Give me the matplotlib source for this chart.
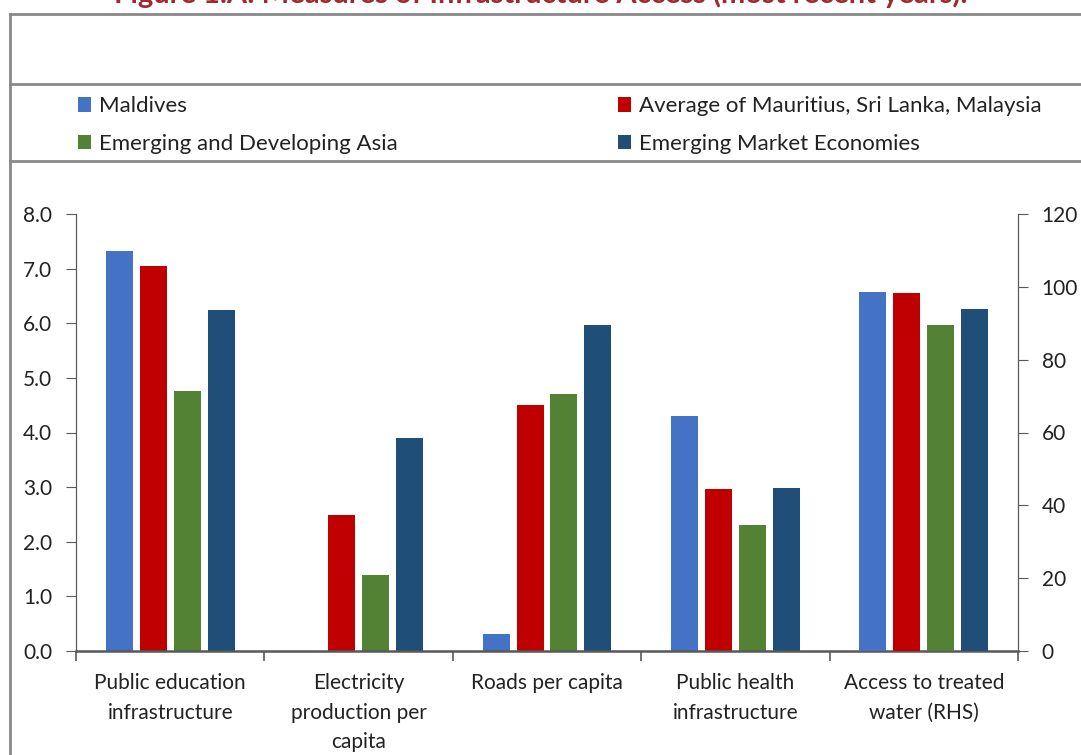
import matplotlib.pyplot as plt
import numpy as np
from matplotlib.lines import Line2D

plt.rcParams['font.family'] = ['Lato', 'DejaVu Sans']

# data
categories = ['Public education\ninfrastructure', 'Electricity\nproduction per\ncapita',
              'Roads per capita', 'Public health\ninfrastructure', 'Access to treated\nwater (RHS)']
series = ['Maldives', 'Average of Mauritius, Sri Lanka, Malaysia',
          'Emerging and Developing Asia', 'Emerging Market Economies']
colors = ['#4472C4', '#C00000', '#548235', '#1F4E79']

# left axis (first four categories)
maldives = [7.33, 0.0, 0.31, 4.30]
avg_msm = [7.05, 2.49, 4.51, 2.97]
eda = [4.76, 1.39, 4.71, 2.31]
eme = [6.25, 3.90, 5.97, 2.99]
# right axis (water access, %)
water = [98.6, 98.3, 89.5, 93.9]

left_vals = [maldives, avg_msm, eda, eme]

W, H = 1081, 755
fig = plt.figure(figsize=(W / 100, H / 100), dpi=100)
ax = fig.add_axes([76 / W, 1 - 651 / H, (1018 - 76) / W, (651 - 214) / H])
ax2 = ax.twinx()

offsets = [-0.27, -0.09, 0.09, 0.27]
bw = 0.143
x = np.arange(4)
handles = []
for i in range(4):
    b = ax.bar(x + offsets[i], left_vals[i], width=bw, color=colors[i], label=series[i])
    handles.append(b)
    ax2.bar(4 + offsets[i], water[i], width=bw, color=colors[i])

ax.set_xlim(-0.5, 4.5)
ax.set_ylim(0, 8)
ax2.set_ylim(0, 120)
ax.set_yticks(np.arange(0, 8.1, 1))
ax.set_yticklabels([f'{v:.1f}' for v in np.arange(0, 8.1, 1)])
ax2.set_yticks(np.arange(0, 121, 20))

ax.set_xticks(np.arange(-0.5, 4.6, 1))
ax.set_xticklabels([])
ax.set_xticks(np.arange(5), minor=True)
ax.set_xticklabels(categories, minor=True, linespacing=1.6)
ax.tick_params(axis='x', which='minor', length=0, pad=16, labelsize=15, colors='#222222')
ax.tick_params(axis='x', which='major', length=7, width=1.2, color='#595959')

spine_c = '#595959'
for a in (ax, ax2):
    a.spines['top'].set_visible(False)
    for s in ('left', 'right', 'bottom'):
        a.spines[s].set_color(spine_c)
ax.spines['bottom'].set_linewidth(1.8)
ax.tick_params(axis='y', length=7, color=spine_c, labelsize=15, labelcolor='#222222', pad=10)
ax2.tick_params(axis='y', length=7, color=spine_c, labelsize=15, labelcolor='#222222', pad=10)

# legend
order = [0, 2, 1, 3]
leg = fig.legend([handles[i] for i in order], [series[i] for i in order], ncol=2,
                 loc='upper left', bbox_to_anchor=(58 / W, 1 - 76 / H), frameon=False,
                 fontsize=16, handlelength=0.6, handleheight=0.65, handletextpad=0.35,
                 columnspacing=9.9, labelspacing=0.8, labelcolor='#222222')

# frame lines
fc = '#898989'
for yy in (14, 84, 161):
    fig.add_artist(Line2D([10 / W, 1], [1 - yy / H] * 2, color=fc, lw=2))
fig.add_artist(Line2D([10 / W] * 2, [0, 1 - 14 / H], color=fc, lw=2))

fig.text(0.5, 1 - 3 / H, 'Figure 1.A: Measures of Infrastructure Access (most recent years).',
         ha='center', va='baseline', fontsize=21, fontweight='bold', color='#A0282E')

fig.savefig('out.png', dpi=100)
